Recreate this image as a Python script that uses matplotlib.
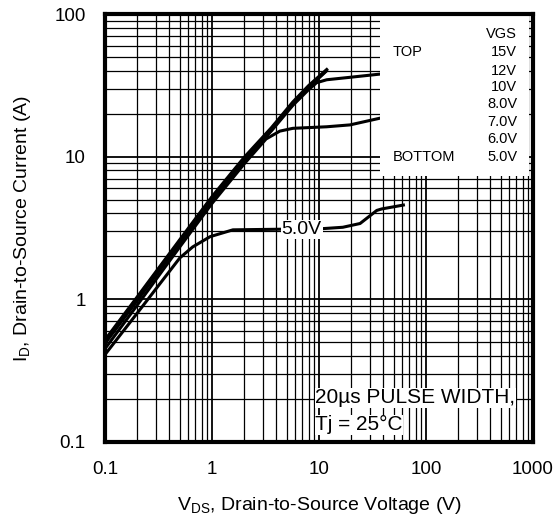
import matplotlib
matplotlib.use("Agg")
import matplotlib.pyplot as plt
from matplotlib.patches import Rectangle
from matplotlib.ticker import LogLocator, FixedLocator, FixedFormatter, NullFormatter

plt.rcParams['font.family'] = ['Liberation Sans', 'DejaVu Sans']

# ---- data ----
vds_15 = [0.1, 0.2, 0.5, 1, 2, 3.6, 5.7, 8, 12.1]
id_15 = [0.52, 1.04, 2.62, 5.25, 9.9, 16.0, 24.2, 31.5, 41.5]
vds_12 = [0.1, 0.2, 0.5, 1, 2, 3.6, 5.7, 8, 12.0]
id_12 = [0.51, 1.02, 2.57, 5.15, 9.7, 15.7, 23.7, 31.0, 40.8]
vds_10 = [0.1, 0.2, 0.5, 1, 2, 3.6, 5.7, 8, 11.8]
id_10 = [0.50, 1.00, 2.52, 5.05, 9.5, 15.4, 23.3, 30.5, 40.0]
vds_7 = [0.1, 0.2, 0.5, 1, 2, 3.6, 5.7, 8, 9.5, 11.8, 19.5, 37, 60]
id_7 = [0.49, 0.98, 2.48, 4.95, 9.35, 15.2, 22.9, 29.5, 33.0, 34.6, 36.0, 37.9, 39.0]
vds_6 = [0.1, 0.2, 0.5, 1, 2, 3.2, 4.3, 5.7, 11.8, 19.5, 37, 60]
id_6 = [0.45, 0.91, 2.33, 4.7, 8.9, 13.3, 15.1, 15.8, 16.2, 16.7, 18.6, 20.0]
vds_5 = [0.1, 0.2, 0.5, 0.66, 0.96, 1.57, 4.3, 10.8, 16.7, 24.2, 34.7, 38.5, 63.5]
id_5 = [0.41, 0.80, 1.95, 2.33, 2.75, 3.07, 3.10, 3.13, 3.20, 3.40, 4.20, 4.30, 4.60]

x_ticks = [0.1, 1, 10, 100, 1000]
x_tick_labels = ['0.1', '1', '10', '100', '1000']
y_ticks = [0.1, 1, 10, 100]
y_tick_labels = ['0.1', '1', '10', '100']

legend_vgs = ['VGS', '15V', '12V', '10V', '8.0V', '7.0V', '6.0V', '5.0V']

fig = plt.figure(figsize=(5.6, 5.25), dpi=100)
ax = fig.add_axes([105/560, 1-442/525, 428/560, 428/525])
ax.set_xscale('log')
ax.set_yscale('log')
ax.set_xlim(0.1, 1000)
ax.set_ylim(0.1, 100)
ax.set_axisbelow(True)

ax.xaxis.set_major_locator(FixedLocator(x_ticks))
ax.xaxis.set_major_formatter(FixedFormatter(x_tick_labels))
ax.yaxis.set_major_locator(FixedLocator(y_ticks))
ax.yaxis.set_major_formatter(FixedFormatter(y_tick_labels))
ax.xaxis.set_minor_locator(LogLocator(base=10, subs=range(2, 10), numticks=20))
ax.yaxis.set_minor_locator(LogLocator(base=10, subs=range(2, 10), numticks=20))
ax.xaxis.set_minor_formatter(NullFormatter())
ax.yaxis.set_minor_formatter(NullFormatter())
ax.tick_params(which='both', length=0, labelsize=13.5, pad=14)

ax.grid(which='major', color='black', linewidth=1.3)
ax.grid(which='minor', color='black', linewidth=0.9)

for s in ax.spines.values():
    s.set_linewidth(3)
    s.set_zorder(6)

for xs, ys in [(vds_15, id_15), (vds_12, id_12), (vds_10, id_10),
               (vds_7, id_7), (vds_6, id_6), (vds_5, id_5)]:
    ax.plot(xs, ys, color='black', linewidth=2.2, zorder=2, solid_capstyle='butt')

# legend box
ax.add_patch(Rectangle((0.643, 0.621), 0.347, 0.379, transform=ax.transAxes,
                       facecolor='white', edgecolor='none', zorder=3))
ys_leg = [0.953, 0.911, 0.867, 0.829, 0.790, 0.748, 0.708, 0.666]
for lab, yy in zip(legend_vgs, ys_leg):
    ax.text(0.963, yy, lab, transform=ax.transAxes, ha='right', va='center',
            fontsize=10.5, zorder=4)
ax.text(0.673, ys_leg[1], 'TOP', transform=ax.transAxes, ha='left', va='center',
        fontsize=10.5, zorder=4)
ax.text(0.673, ys_leg[-1], 'BOTTOM', transform=ax.transAxes, ha='left', va='center',
        fontsize=10.5, zorder=4)

# curve label
ax.text(6.9, 3.1, '5.0V', ha='center', va='center', fontsize=14, zorder=5,
        bbox=dict(facecolor='white', edgecolor='none', pad=0.5))

# pulse width note
ax.text(0.491, 0.103, '20µs PULSE WIDTH,', transform=ax.transAxes, ha='left',
        va='center', fontsize=15, zorder=5,
        bbox=dict(facecolor='white', edgecolor='none', pad=0.5))
ax.text(0.491, 0.040, 'Tj = 25°C', transform=ax.transAxes, ha='left',
        va='center', fontsize=15, zorder=5,
        bbox=dict(facecolor='white', edgecolor='none', pad=0.5))

ax.set_xlabel(r'$\mathregular{V_{DS}}$, Drain-to-Source Voltage (V)', fontsize=14)
ax.set_ylabel(r'$\mathregular{I_{D}}$, Drain-to-Source Current (A)', fontsize=14)
ax.xaxis.set_label_coords(0.5, -0.125)
ax.yaxis.set_label_coords(-0.168, 0.5)

fig.savefig('out.png', dpi=100)
